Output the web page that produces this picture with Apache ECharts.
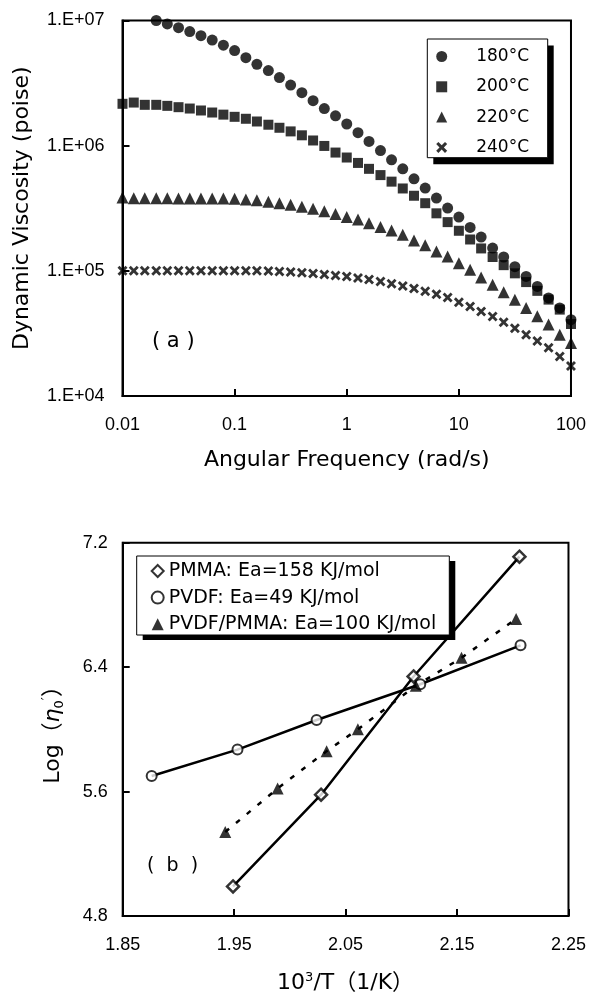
<!DOCTYPE html>
<html>
<head>
<meta charset="utf-8">
<script src="https://cdn.jsdelivr.net/npm/echarts@6/dist/echarts.min.js"></script>
<style>
html,body{margin:0;padding:0;background:#fff;}
#c{width:589px;height:996px;}
</style>
</head>
<body>
<div id="c"></div>
<script>
// ---------- Panel (a): dynamic viscosity vs angular frequency ----------
const freq = [0.01, 0.0126, 0.0158, 0.02, 0.0251, 0.0316, 0.0398, 0.0501, 0.0631, 0.0794,
  0.1, 0.126, 0.158, 0.2, 0.251, 0.316, 0.398, 0.501, 0.631, 0.794,
  1, 1.26, 1.58, 2, 2.51, 3.16, 3.98, 5.01, 6.31, 7.94,
  10, 12.6, 15.8, 20, 25.1, 31.6, 39.8, 50.1, 63.1, 79.4, 100];
const visc180 = [null, null, null, 1.00e7, 9.38e6, 8.77e6, 8.15e6, 7.57e6, 6.98e6, 6.35e6,
  5.75e6, 5.05e6, 4.47e6, 3.98e6, 3.50e6, 3.05e6, 2.65e6, 2.29e6, 1.98e6, 1.73e6,
  1.49e6, 1.27e6, 1.08e6, 9.14e5, 7.71e5, 6.53e5, 5.43e5, 4.58e5, 3.81e5, 3.17e5,
  2.69e5, 2.22e5, 1.86e5, 1.52e5, 1.29e5, 1.08e5, 9.02e4, 7.50e4, 6.07e4, 5.05e4, 4.07e4];
const visc200 = [2.16e6, 2.21e6, 2.12e6, 2.12e6, 2.08e6, 2.03e6, 1.98e6, 1.91e6, 1.84e6, 1.77e6,
  1.70e6, 1.64e6, 1.56e6, 1.47e6, 1.39e6, 1.30e6, 1.21e6, 1.10e6, 9.95e5, 8.81e5,
  8.04e5, 7.28e5, 6.53e5, 5.82e5, 5.16e5, 4.55e5, 3.98e5, 3.47e5, 2.88e5, 2.45e5,
  2.09e5, 1.78e5, 1.51e5, 1.29e5, 1.11e5, 9.55e4, 8.13e4, 6.92e4, 5.89e4, 4.90e4, 3.76e4];
const visc220 = [3.85e5, 3.80e5, 3.80e5, 3.80e5, 3.80e5, 3.79e5, 3.79e5, 3.79e5, 3.78e5, 3.78e5,
  3.76e5, 3.72e5, 3.66e5, 3.57e5, 3.47e5, 3.37e5, 3.25e5, 3.13e5, 2.99e5, 2.85e5,
  2.69e5, 2.57e5, 2.40e5, 2.24e5, 2.10e5, 1.94e5, 1.75e5, 1.60e5, 1.43e5, 1.30e5,
  1.15e5, 1.02e5, 8.85e4, 7.74e4, 6.73e4, 5.87e4, 5.05e4, 4.33e4, 3.72e4, 3.09e4, 2.65e4];
const visc240 = [1.00e5, 1.00e5, 1.00e5, 1.00e5, 1.00e5, 1.00e5, 1.00e5, 1.00e5, 1.00e5, 1.00e5,
  1.00e5, 1.00e5, 1.00e5, 9.95e4, 9.89e4, 9.77e4, 9.66e4, 9.51e4, 9.33e4, 9.18e4,
  9.02e4, 8.77e4, 8.51e4, 8.22e4, 7.89e4, 7.55e4, 7.21e4, 6.86e4, 6.49e4, 6.12e4,
  5.62e4, 5.19e4, 4.73e4, 4.32e4, 3.89e4, 3.47e4, 3.09e4, 2.75e4, 2.43e4, 2.07e4, 1.74e4];
const tempNames = ['180°C', '200°C', '220°C', '240°C'];

// ---------- Panel (b): Arrhenius plot ----------
const pmmaX = [1.949, 2.028, 2.111, 2.206];
const pmmaY = [4.99, 5.58, 6.34, 7.11];
const pvdfX = [1.876, 1.953, 2.024, 2.117, 2.207];
const pvdfY = [5.70, 5.87, 6.06, 6.29, 6.54];
const blendX = [1.942, 1.989, 2.033, 2.061, 2.113, 2.154, 2.203];
const blendY = [5.34, 5.62, 5.86, 6.00, 6.28, 6.46, 6.71];
const blendNames = ['PMMA: Ea=158 KJ/mol', 'PVDF: Ea=49 KJ/mol', 'PVDF/PMMA: Ea=100 KJ/mol'];

const FONT = '"Liberation Sans", Arial, "Noto Sans CJK JP", sans-serif';
const WFONT = '"DejaVu Sans", "Noto Sans CJK JP", sans-serif';
const zip = (xs, ys) => xs.map((x, i) => [x, ys[i]]).filter(p => p[1] != null);
const crossPath = 'path://M0,2L2,0L5,3L8,0L10,2L7,5L10,8L8,10L5,7L2,10L0,8L3,5Z';

const axisCommon = {
  axisLine: { show: true, lineStyle: { color: '#000', width: 2 } },
  axisTick: { show: true, inside: true, length: 7, lineStyle: { color: '#000', width: 2 } },
  splitLine: { show: false },
  axisLabel: { color: '#000', fontSize: 18, fontFamily: FONT },
  nameTextStyle: { color: '#000', fontSize: 22, fontFamily: WFONT }
};

// legend frames (box + hard drop shadow)
function frame(x, y, w, h, dx, dy) {
  return [
    { type: 'rect', z: 5, silent: true, shape: { x: x + dx, y: y + dy, width: w, height: h }, style: { fill: '#000' } },
    { type: 'rect', z: 6, silent: true, shape: { x: x, y: y, width: w, height: h }, style: { fill: '#fff', stroke: '#000', lineWidth: 1 } }
  ];
}

const chart = echarts.init(document.getElementById('c'), null, { renderer: 'canvas' });
chart.setOption({
  animation: false,
  backgroundColor: '#fff',
  grid: [
    { left: 122.5, top: 20.5, width: 449.5, height: 375.5, show: true, borderColor: '#000', borderWidth: 2, backgroundColor: 'transparent' },
    { left: 122.7, top: 542.7, width: 449, height: 373.3, show: true, borderColor: '#000', borderWidth: 2, backgroundColor: 'transparent' }
  ],
  xAxis: [
    Object.assign({}, axisCommon, {
      gridIndex: 0, type: 'log', logBase: 10, min: 0.01, max: 100,
      name: 'Angular Frequency (rad/s)', nameLocation: 'middle', nameGap: 53,
      axisLabel: Object.assign({}, axisCommon.axisLabel, { margin: 20,
        formatter: v => { const e = Math.round(Math.log10(v)); return e < 0 ? Math.pow(10, e).toFixed(-e) : String(Math.pow(10, e)); } })
    }),
    Object.assign({}, axisCommon, {
      gridIndex: 1, type: 'value', min: 1.85, max: 2.25, interval: 0.1,
      name: '10{sup|3}/T（1/K）', nameLocation: 'middle', nameGap: 55,
      nameTextStyle: Object.assign({}, axisCommon.nameTextStyle, { fontSize: 22,
        rich: { sup: { fontSize: 13, fontFamily: WFONT, color: '#000', padding: [0, 0, 12, 0] } } }),
      axisLabel: Object.assign({}, axisCommon.axisLabel, { margin: 20, formatter: v => v.toFixed(2) })
    })
  ],
  yAxis: [
    Object.assign({}, axisCommon, {
      gridIndex: 0, type: 'log', logBase: 10, min: 1e4, max: 1e7,
      name: 'Dynamic Viscosity (poise)', nameLocation: 'middle', nameGap: 89, nameRotate: 90,
      axisLabel: Object.assign({}, axisCommon.axisLabel, { margin: 18,
        formatter: v => '1.E+0' + Math.round(Math.log10(v)) })
    }),
    Object.assign({}, axisCommon, {
      gridIndex: 1, type: 'value', min: 4.8, max: 7.2, interval: 0.8,
      name: 'Log（{eta|η}{sub|0}{sup|′}）', nameLocation: 'middle', nameGap: 56, nameRotate: 90,
      nameTextStyle: Object.assign({}, axisCommon.nameTextStyle, {
        rich: {
          eta: { fontSize: 22, fontStyle: 'italic', fontFamily: WFONT, color: '#000' },
          sub: { fontSize: 13, fontFamily: WFONT, color: '#000', padding: [12, 0, 0, 0] },
          sup: { fontSize: 14, fontFamily: WFONT, color: '#000', padding: [0, 0, 12, 0] }
        } }),
      axisLabel: Object.assign({}, axisCommon.axisLabel, { margin: 15, formatter: v => v.toFixed(1) })
    })
  ],
  legend: [
    {
      data: tempNames, left: 436.2, top: 46.5, orient: 'vertical', selectedMode: false, z: 10,
      itemWidth: 11, itemHeight: 11, itemGap: 10.3, padding: 0,
      formatter: '{t|{name}}',
      textStyle: { color: '#000', fontFamily: WFONT, fontSize: 17, lineHeight: 20,
        rich: { t: { color: '#000', fontFamily: WFONT, fontSize: 17, lineHeight: 20, padding: [0, 0, 0, 24] } } }
    },
    {
      data: blendNames, left: 150.7, top: 561, orient: 'vertical', selectedMode: false, z: 10,
      itemWidth: 12, itemHeight: 12, itemGap: 6.6, padding: 0,
      textStyle: { color: '#000', fontFamily: WFONT, fontSize: 19, lineHeight: 20 }
    }
  ],
  graphic: [].concat(
    frame(427.3, 39, 120.4, 118.7, 6, 6.5),
    frame(136.7, 556, 312.6, 79, 6, 5),
    [
      { type: 'text', left: 152, top: 331, style: { text: '( a )', font: '21px ' + WFONT, fill: '#000' } },
      { type: 'text', left: 147, top: 857, style: { text: '(  b  )', font: '19px ' + WFONT, fill: '#000' } }
    ]
  ),
  series: [
    { name: tempNames[0], type: 'scatter', xAxisIndex: 0, yAxisIndex: 0, symbol: 'circle', symbolSize: 11,
      itemStyle: { color: '#000' }, data: zip(freq, visc180) },
    { name: tempNames[1], type: 'scatter', xAxisIndex: 0, yAxisIndex: 0, symbol: 'rect', symbolSize: 10,
      itemStyle: { color: '#000' }, data: zip(freq, visc200) },
    { name: tempNames[2], type: 'scatter', xAxisIndex: 0, yAxisIndex: 0, symbol: 'triangle', symbolSize: 12,
      itemStyle: { color: '#000' }, data: zip(freq, visc220) },
    { name: tempNames[3], type: 'scatter', xAxisIndex: 0, yAxisIndex: 0, symbol: crossPath, symbolSize: 10,
      itemStyle: { color: '#000' }, data: zip(freq, visc240) },

    { type: 'line', xAxisIndex: 1, yAxisIndex: 1, symbol: 'none', z: 2,
      lineStyle: { color: '#000', width: 2.5 }, data: zip(pmmaX, pmmaY) },
    { type: 'line', xAxisIndex: 1, yAxisIndex: 1, symbol: 'none', z: 2,
      lineStyle: { color: '#000', width: 2.5 }, data: zip(pvdfX, pvdfY) },
    { type: 'line', xAxisIndex: 1, yAxisIndex: 1, symbol: 'none', z: 2,
      lineStyle: { color: '#000', width: 2.5, type: [5, 9] }, data: zip(blendX, blendY) },

    { name: blendNames[0], type: 'scatter', xAxisIndex: 1, yAxisIndex: 1, symbol: 'diamond', symbolSize: 12, z: 3,
      itemStyle: { color: '#fff', borderColor: '#000', borderWidth: 2.5 }, data: zip(pmmaX, pmmaY) },
    { name: blendNames[1], type: 'scatter', xAxisIndex: 1, yAxisIndex: 1, symbol: 'circle', symbolSize: 10, z: 3,
      itemStyle: { color: '#fff', borderColor: '#000', borderWidth: 2 }, data: zip(pvdfX, pvdfY) },
    { name: blendNames[2], type: 'scatter', xAxisIndex: 1, yAxisIndex: 1, symbol: 'triangle', symbolSize: 12, z: 3,
      itemStyle: { color: '#000' }, data: zip(blendX, blendY) }
  ]
});
</script>
</body>
</html>
